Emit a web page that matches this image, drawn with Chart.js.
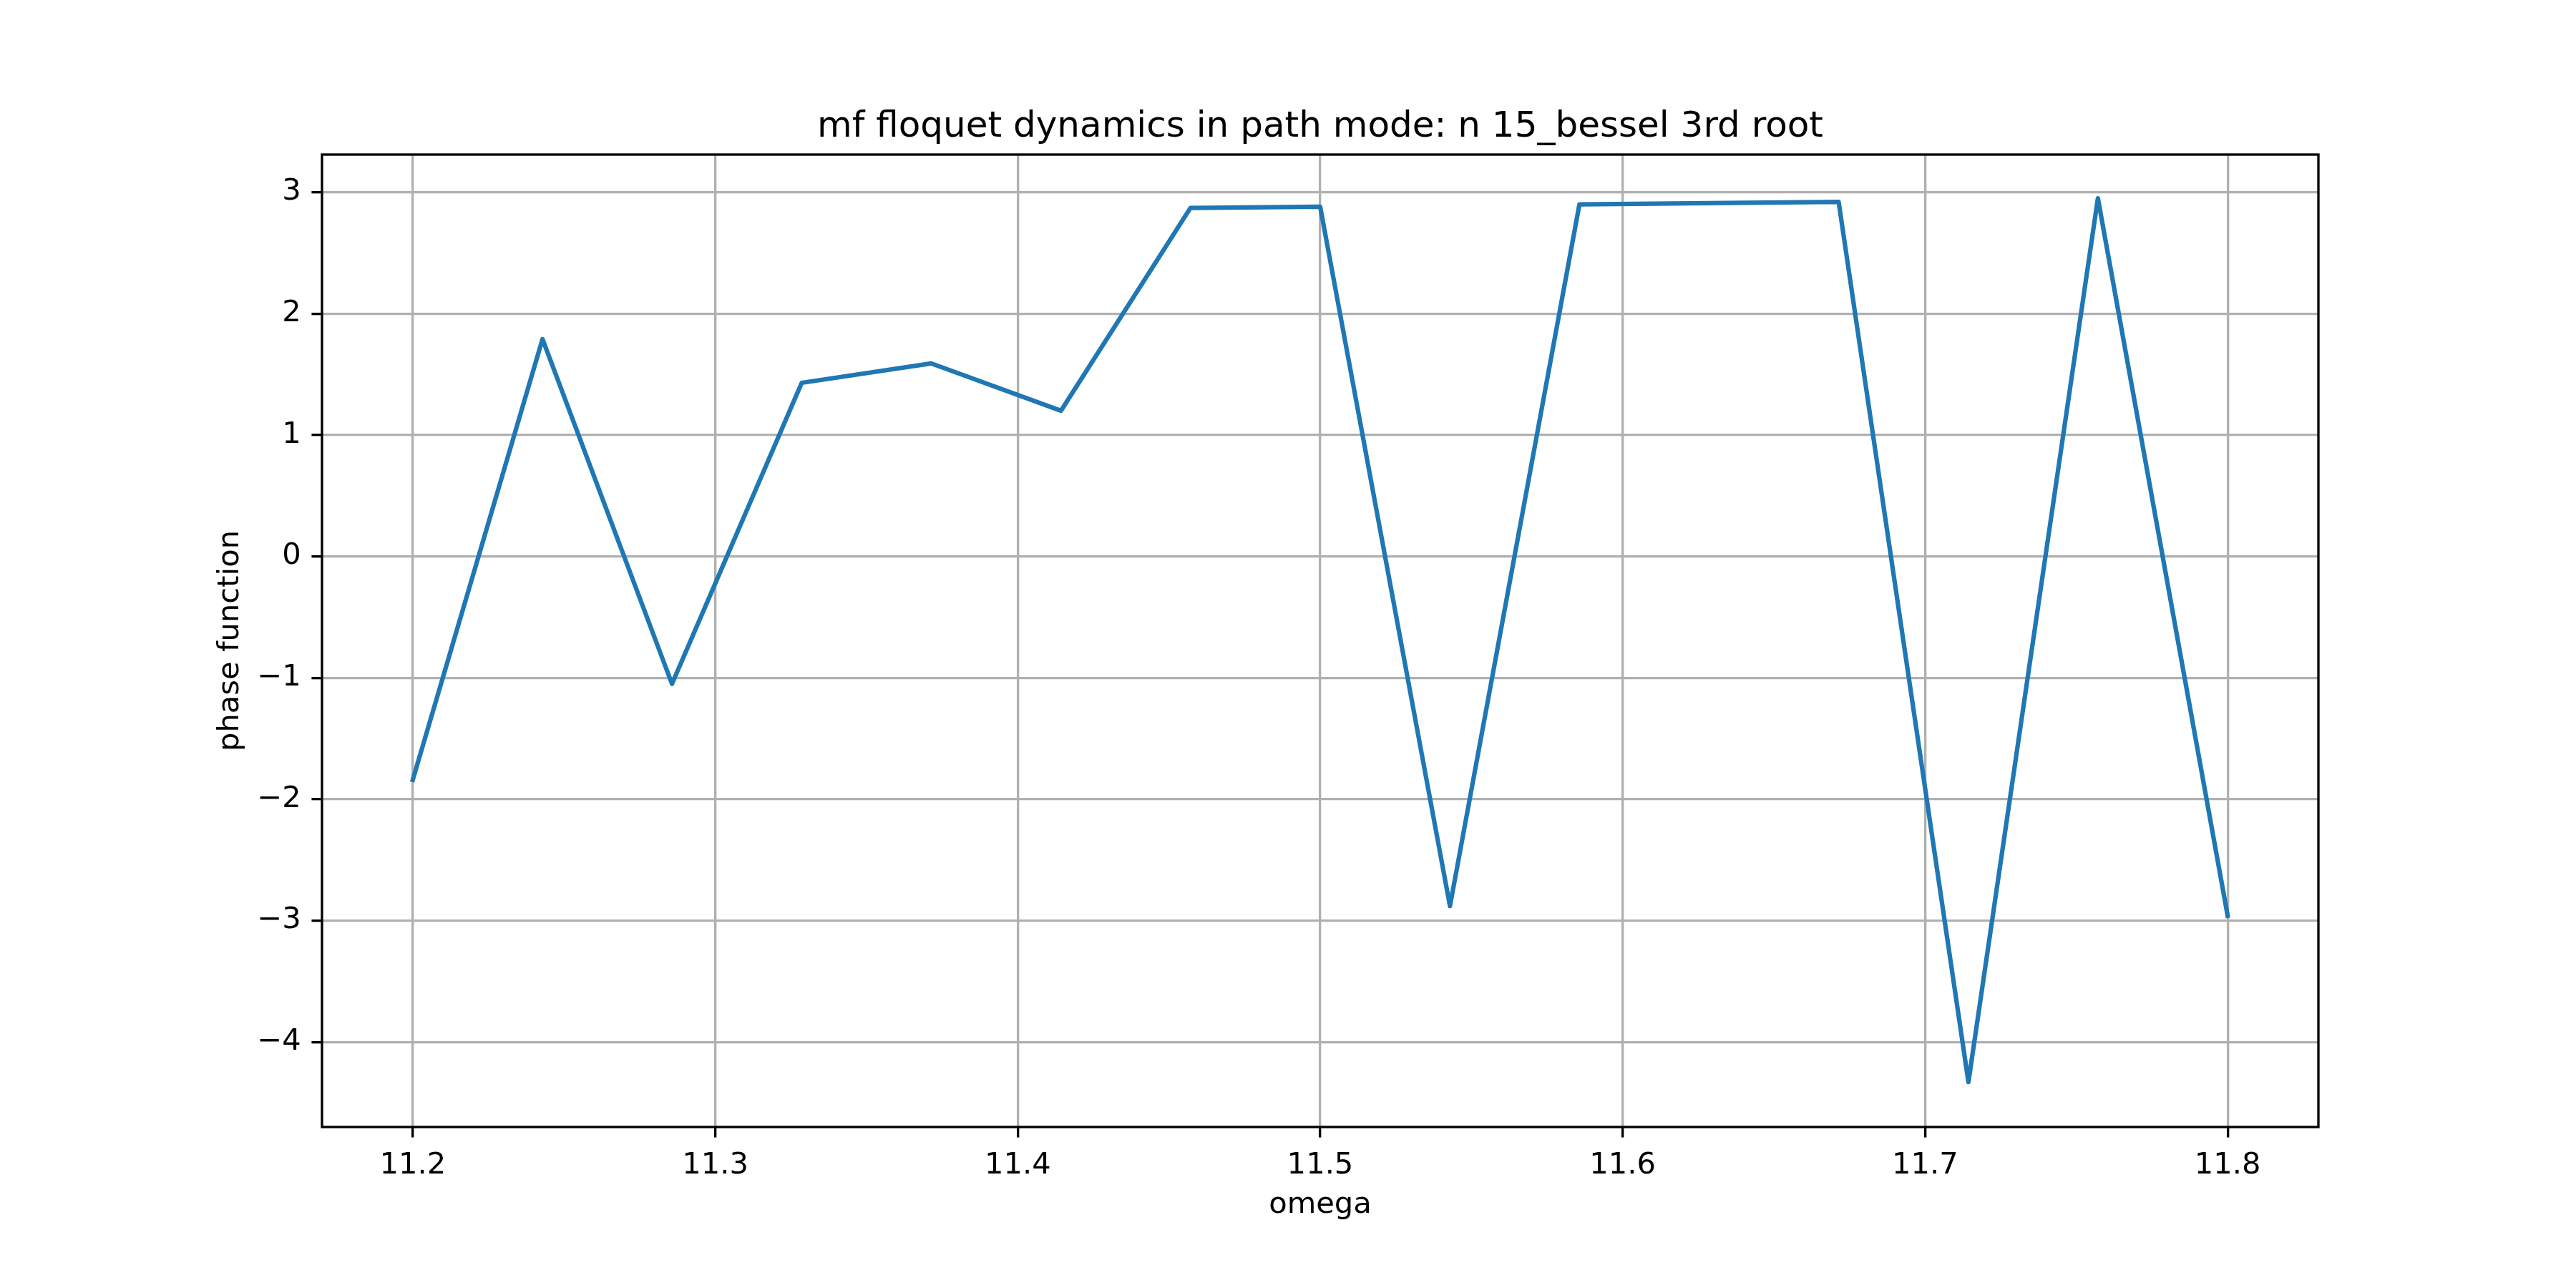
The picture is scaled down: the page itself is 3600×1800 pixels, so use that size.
<!DOCTYPE html>
<html>
<head>
<meta charset="utf-8">
<script src="https://cdn.jsdelivr.net/npm/chart.js@4.4.1/dist/chart.umd.min.js"></script>
<style>
  html, body { margin: 0; padding: 0; background: #ffffff; }
  #wrap { width: 3600px; height: 1800px; }
  canvas { display: block; }
</style>
</head>
<body>
<div id="wrap"><canvas id="c" width="3600" height="1800" style="width:3600px;height:1800px"></canvas></div>
<script>
// ---- data ----
const chartTitle = "mf floquet dynamics in path mode: n 15_bessel 3rd root";
const xLabel = "omega";
const yLabel = "phase function";
const omega = [11.2, 11.2429, 11.2857, 11.3286, 11.3714, 11.4143, 11.4571, 11.5,
               11.5429, 11.5857, 11.6286, 11.6714, 11.7143, 11.7571, 11.8];
const phase = [-1.84, 1.79, -1.05, 1.43, 1.59, 1.20, 2.87, 2.88,
               -2.88, 2.90, 2.91, 2.92, -4.33, 2.95, -2.96];
const xTicks = [11.2, 11.3, 11.4, 11.5, 11.6, 11.7, 11.8];
const yTicks = [-4, -3, -2, -1, 0, 1, 2, 3];
const xRange = [11.17, 11.83];
const yRange = [-4.70, 3.31];

// ---- styling ----
const PT = 300 / 72;            // px per point
const FONT = '"DejaVu Sans", "Liberation Sans", sans-serif';
const gridColor = '#b0b0b0';
const lineColor = '#1f77b4';

const points = omega.map((x, i) => ({ x: x, y: phase[i] }));

function fmtNum(v, digits) {
  const s = Math.abs(v).toFixed(digits);
  return (v < 0 ? '\u2212' : '') + s;
}

const framePlugin = {
  id: 'frame',
  afterDatasetsDraw(chart) {
    const { ctx, chartArea: a } = chart;
    ctx.save();
    ctx.strokeStyle = '#000000';
    ctx.lineWidth = 0.8 * PT;
    ctx.lineJoin = 'miter';
    ctx.strokeRect(a.left, a.top, a.right - a.left, a.bottom - a.top);
    ctx.restore();
  },
  afterDraw(chart) {
    const { ctx, chartArea: a } = chart;
    ctx.save();
    ctx.fillStyle = '#000000';
    ctx.font = (12 * PT) + 'px ' + FONT;
    ctx.textAlign = 'center';
    ctx.textBaseline = 'alphabetic';
    ctx.fillText(chartTitle, (a.left + a.right) / 2, a.top - 6 * PT);
    ctx.restore();
  }
};

Chart.defaults.font.family = FONT;
Chart.defaults.color = '#000000';

new Chart(document.getElementById('c'), {
  type: 'line',
  data: {
    datasets: [{
      data: points,
      borderColor: lineColor,
      backgroundColor: lineColor,
      borderWidth: 1.5 * PT,
      pointRadius: 0,
      pointHoverRadius: 0,
      tension: 0,
      fill: false,
      borderJoinStyle: 'round',
      borderCapStyle: 'square'
    }]
  },
  options: {
    responsive: false,
    devicePixelRatio: 1,
    animation: false,
    events: [],
    layout: { padding: { top: 216, right: 360, bottom: 0, left: 0 } },
    plugins: {
      legend: { display: false },
      title: { display: false },
      tooltip: { enabled: false }
    },
    scales: {
      x: {
        type: 'linear',
        position: 'bottom',
        min: xRange[0],
        max: xRange[1],
        afterBuildTicks(scale) { scale.ticks = xTicks.map(v => ({ value: v })); },
        afterFit(scale) { scale.height = 225; },
        ticks: {
          autoSkip: false,
          maxRotation: 0,
          minRotation: 0,
          padding: 3.5 * PT,
          font: { size: 10 * PT, family: FONT },
          color: '#000000',
          callback: (v) => fmtNum(v, 1)
        },
        grid: {
          color: gridColor,
          lineWidth: 0.8 * PT,
          drawTicks: true,
          tickLength: 3.5 * PT,
          tickColor: '#000000',
          tickWidth: 0.8 * PT
        },
        border: { display: false },
        title: {
          display: true,
          text: xLabel,
          color: '#000000',
          font: { size: 10 * PT, family: FONT },
          padding: { top: 0, bottom: 91 }
        }
      },
      y: {
        type: 'linear',
        position: 'left',
        min: yRange[0],
        max: yRange[1],
        afterBuildTicks(scale) { scale.ticks = yTicks.map(v => ({ value: v })); },
        afterFit(scale) { scale.width = 450; },
        ticks: {
          autoSkip: false,
          padding: 3.5 * PT,
          font: { size: 10 * PT, family: FONT },
          color: '#000000',
          callback: (v) => fmtNum(v, 0)
        },
        grid: {
          color: gridColor,
          lineWidth: 0.8 * PT,
          drawTicks: true,
          tickLength: 3.5 * PT,
          tickColor: '#000000',
          tickWidth: 0.8 * PT
        },
        border: { display: false },
        title: {
          display: true,
          text: yLabel,
          color: '#000000',
          font: { size: 10 * PT, family: FONT },
          padding: { top: 297, bottom: 0 }
        }
      }
    }
  },
  plugins: [framePlugin]
});
</script>
</body>
</html>
